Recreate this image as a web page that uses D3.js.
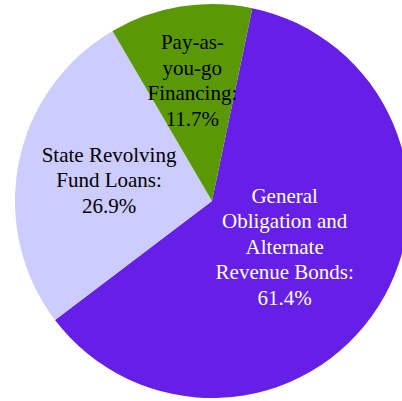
<!DOCTYPE html>
<html>
<head>
<meta charset="UTF-8">
<script src="https://cdn.jsdelivr.net/npm/d3@7"></script>
<style>
  body { margin: 0; background: #fff; }
</style>
</head>
<body>
<div id="chart"></div>
<script>
var categories = ["General Obligation and Alternate Revenue Bonds", "State Revolving Fund Loans", "Pay-as-you-go Financing"];
var shares = [61.4, 26.9, 11.7];
var labelLines = [
  ["General", "Obligation and", "Alternate", "Revenue Bonds:", "61.4%"],
  ["State Revolving", "Fund Loans:", "26.9%"],
  ["Pay-as-", "you-go", "Financing:", "11.7%"]
];
var colors = ["#661fe6", "#ccccff", "#5a9905"];
var textColors = ["#ffffff", "#000000", "#000000"];

var width = 402, height = 401;
var cx = 212, cy = 201, r = 197;
var labelDist = [86, 105, 122]; // distance of each label block from centre
var lineH = 25.5;
var start = 11.8 * Math.PI / 180;

var svg = d3.select("#chart").append("svg")
  .attr("width", width)
  .attr("height", height);

var g = svg.append("g").attr("transform", "translate(" + cx + "," + cy + ")");

var pie = d3.pie().sort(null).value(function(d){ return d; })
  .startAngle(start).endAngle(start + 2 * Math.PI);
var arcs = pie(shares);

var arc = d3.arc().innerRadius(0).outerRadius(r);

g.selectAll("path")
  .data(arcs)
  .enter().append("path")
  .attr("d", arc)
  .attr("fill", function(d, i){ return colors[i]; });

var labels = g.selectAll("text.lbl")
  .data(arcs)
  .enter().append("text")
  .attr("class", "lbl")
  .attr("text-anchor", "middle")
  .style("font-family", "'Liberation Serif', 'Times New Roman', serif")
  .style("font-size", "21px")
  .attr("fill", function(d, i){ return textColors[i]; })
  .attr("transform", function(d, i){
    var a = (d.startAngle + d.endAngle) / 2;
    var x = Math.sin(a) * labelDist[i];
    var y = -Math.cos(a) * labelDist[i];
    return "translate(" + x + "," + y + ")";
  });

labels.each(function(d, i){
  var lines = labelLines[i];
  var t = d3.select(this);
  var first = -(lines.length - 1) / 2 * lineH + 7;
  lines.forEach(function(s, k){
    t.append("tspan")
      .attr("x", 0)
      .attr("y", first + k * lineH)
      .text(s);
  });
});
</script>
</body>
</html>
